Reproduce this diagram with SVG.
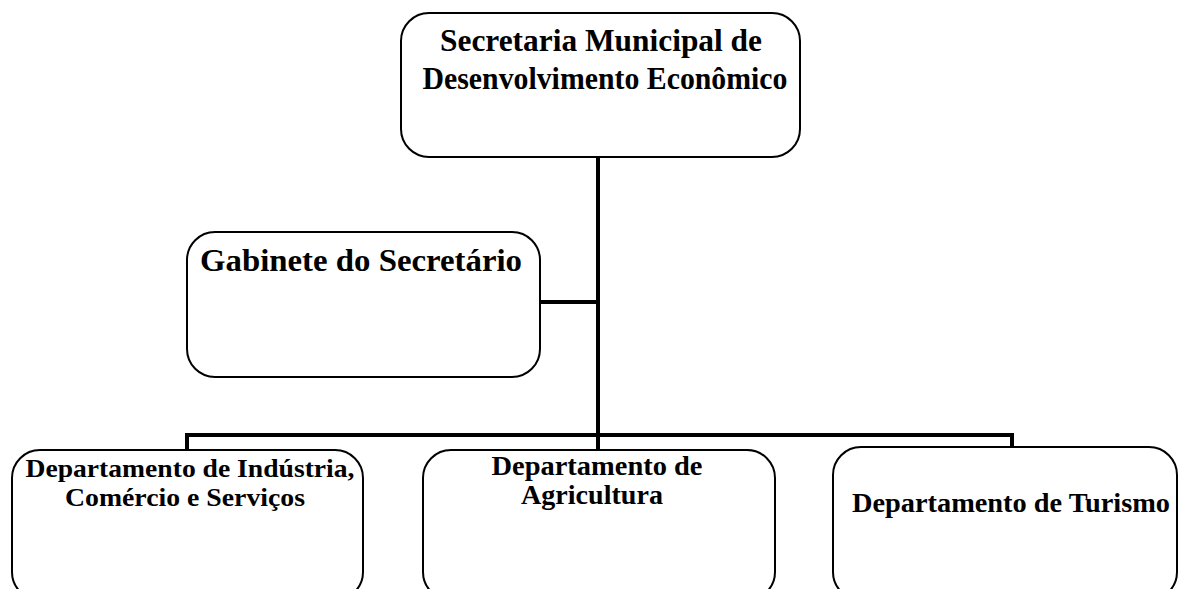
<svg xmlns="http://www.w3.org/2000/svg" width="1178" height="589" viewBox="0 0 1178 589">
<style>
.box{fill:#fff;stroke:#000;stroke-width:2}
.t{font-family:"Liberation Serif","Times New Roman",serif;font-weight:bold;fill:#000;text-anchor:middle}
.c{fill:none;stroke:#000;stroke-width:4}
</style>
<rect width="1178" height="589" fill="#fff"/>
<g id="connectors">
<line class="c" x1="598" y1="157" x2="598" y2="437"/>
<line class="c" x1="540" y1="302" x2="598" y2="302"/>
<polyline class="c" points="187,451 187,435 1012,435 1012,448"/>
<line class="c" x1="598" y1="435" x2="598" y2="451"/>
</g>
<g id="secretaria">
<rect class="box" x="401" y="13" width="399" height="144" rx="28"/>
<text class="t" x="601" y="51" font-size="31" textLength="322" lengthAdjust="spacingAndGlyphs">Secretaria Municipal de</text>
<text class="t" x="605" y="89" font-size="31" textLength="365" lengthAdjust="spacingAndGlyphs">Desenvolvimento Econômico</text>
</g>
<g id="gabinete">
<rect class="box" x="187" y="232" width="353" height="145" rx="28"/>
<text class="t" x="361" y="271" font-size="32" textLength="322" lengthAdjust="spacingAndGlyphs">Gabinete do Secretário</text>
</g>
<g id="dep-industria">
<rect class="box" x="12" y="450" width="351" height="150" rx="28"/>
<text class="t" x="190" y="477" font-size="26" textLength="329" lengthAdjust="spacingAndGlyphs">Departamento de Indústria,</text>
<text class="t" x="185" y="506" font-size="26" textLength="240" lengthAdjust="spacingAndGlyphs">Comércio e Serviços</text>
</g>
<g id="dep-agricultura">
<rect class="box" x="423" y="450" width="352" height="150" rx="28"/>
<text class="t" x="597" y="475" font-size="27" textLength="211" lengthAdjust="spacingAndGlyphs">Departamento de</text>
<text class="t" x="592" y="504" font-size="27" textLength="142" lengthAdjust="spacingAndGlyphs">Agricultura</text>
</g>
<g id="dep-turismo">
<rect class="box" x="833" y="447" width="344" height="153" rx="28"/>
<text class="t" x="1011" y="512" font-size="27" textLength="318" lengthAdjust="spacingAndGlyphs">Departamento de Turismo</text>
</g>
</svg>
